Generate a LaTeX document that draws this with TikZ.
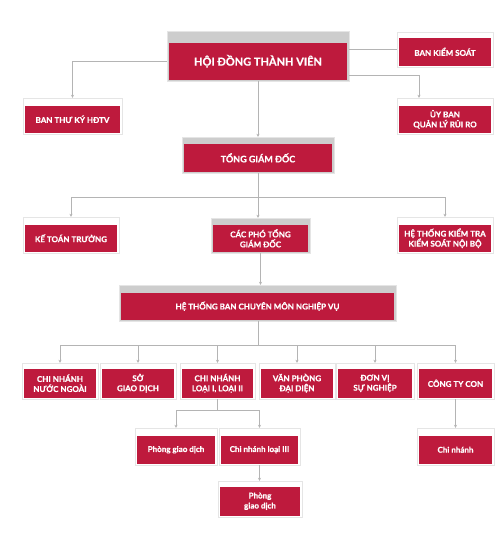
\documentclass[tikz,border=0pt]{standalone}
\usepackage{fontspec}
\setmainfont{Lato}
\newfontfamily\boxf{Lato}[BoldFeatures={FakeBold=0.8}]
\usetikzlibrary{arrows.meta,shadows}
\definecolor{rred}{HTML}{BE1A3D}
\definecolor{band}{HTML}{CDCDCD}
\definecolor{lnc}{HTML}{B4B4B4}
\tikzset{
  outerbox/.style={rectangle, draw=black!10, line width=0.4pt, inner sep=0pt,
    drop shadow={shadow xshift=0.9pt, shadow yshift=-0.9pt, fill=black!35, opacity=0.5}},
  redbox/.style={rectangle, fill=rred, text=white, inner sep=0pt, align=center,
    font=\boxf\bfseries\fontsize{8}{10}\selectfont},
  conn/.style={draw=lnc, line width=0.7pt},
  arr/.style={conn, -{Stealth[length=3pt,width=3pt]}},
}
\newcommand\obox[8]{%
  \pgfmathsetmacro\ow{#4-#2}\pgfmathsetmacro\oh{#5-#3}%
  \pgfmathsetmacro\cx{(#2+#4)/2}\pgfmathsetmacro\cy{(#3+#5)/2}%
  \pgfmathsetmacro\iw{#4-#2-4.5}\pgfmathsetmacro\ih{#5-#3-#7-1.5}%
  \node[outerbox, fill=#6, minimum width=\ow pt, minimum height=\oh pt] (#1) at (\cx,\cy) {};
  \node[redbox, minimum width=\iw pt, minimum height=\ih pt, anchor=south] (#1r) at ([yshift=1.5pt]#1.south) {#8};
}
\newcommand\bigf{\fontsize{11}{12}\selectfont}
\newcommand\midf{\fontsize{9}{10}\selectfont}
\begin{document}
\begin{tikzpicture}[x=1pt,y=-1pt]
\fill[white] (0,0) rectangle (503,533);
\useasboundingbox (0,0) rectangle (503,533);
% boxes
\obox{hdtv}{167}{31}{349}{81}{band}{12}{\bigf HỘI ĐỒNG THÀNH VIÊN}
\obox{bks}{397}{32}{493}{67}{white}{6}{BAN KIỂM SOÁT}
\obox{btk}{23}{98}{122}{134}{white}{8}{BAN THƯ KÝ HĐTV}
\obox{qlrr}{397}{98}{493}{134}{white}{8}{ỦY BAN\\QUẢN LÝ RỦI RO}
\obox{tgd}{182}{137}{334}{173}{band}{7}{\midf TỔNG GIÁM ĐỐC}
\obox{ktt}{23}{217}{119}{253}{white}{8}{KẾ TOÁN TRƯỞNG}
\obox{cpt}{211}{218}{310}{253}{band}{7}{CÁC PHÓ TỔNG\\GIÁM ĐỐC}
\obox{ktks}{397}{217}{493}{253}{white}{8}{HỆ THỐNG KIỂM TRA\\KIỂM SOÁT NỘI BỘ}
\obox{htb}{119}{285}{396}{321}{band}{8}{HỆ THỐNG BAN CHUYÊN MÔN NGHIỆP VỤ}
\obox{cnnn}{22}{363}{98}{399}{white}{6}{CHI NHÁNH\\NƯỚC NGOÀI}
\obox{sgd}{100}{363}{176}{399}{white}{6}{SỞ\\GIAO DỊCH}
\obox{cn12}{180}{363}{255}{399}{white}{6}{CHI NHÁNH\\LOẠI I, LOẠI II}
\obox{vpdd}{259}{363}{335}{399}{white}{6}{VĂN PHÒNG\\ĐẠI DIỆN}
\obox{dvsn}{336}{363}{414}{399}{white}{6}{ĐƠN VỊ\\SỰ NGHIỆP}
\obox{ctc}{417}{363}{494}{399}{white}{6}{CÔNG TY CON}
\obox{pgda}{135}{428}{217}{465}{white}{8}{Phòng giao dịch}
\obox{cn3}{219}{428}{300}{465}{white}{8}{Chi nhánh loại III}
\obox{pgdb}{218}{481}{302}{517}{white}{6}{Phòng\\giao dịch}
\obox{cn}{417}{428}{494}{465}{white}{8}{Chi nhánh}
% connectors
\draw[arr] ([yshift=-5pt]hdtv.west) -| (btk.north);
\draw[conn] (hdtv.east |- bks.west) -- (bks.west);
\draw[arr] ([yshift=6pt]hdtv.south east) -| ([xshift=-26pt]qlrr.north);
\draw[arr] (hdtv.south) -- (tgd.north);
\coordinate (j1) at (258,197);
\draw[conn] (tgd.south) -- (j1);
\draw[arr] (j1) -| (ktt.north);
\draw[arr] (j1) -| (ktks.north);
\draw[arr] (j1) -- (j1 |- cpt.north);
\draw[arr] (cpt.south) -- (cpt.south |- htb.north);
\coordinate (j2) at (258,345);
\draw[conn] (htb.south -| j2) -- (j2);
\foreach \b in {cnnn,sgd,cn12,vpdd,dvsn,ctc}{
  \draw[arr] (j2) -| (\b.north);
}
\coordinate (j3) at (218,410);
\draw[conn] (cn12.south) -- (cn12.south |- j3);
\draw[arr] (j3) -| (pgda.north);
\draw[arr] (j3) -| (cn3.north);
\draw[arr] (cn3.south) -- (cn3.south |- pgdb.north);
\draw[arr] (ctc.south) -- (cn.north);
\end{tikzpicture}
\end{document}
